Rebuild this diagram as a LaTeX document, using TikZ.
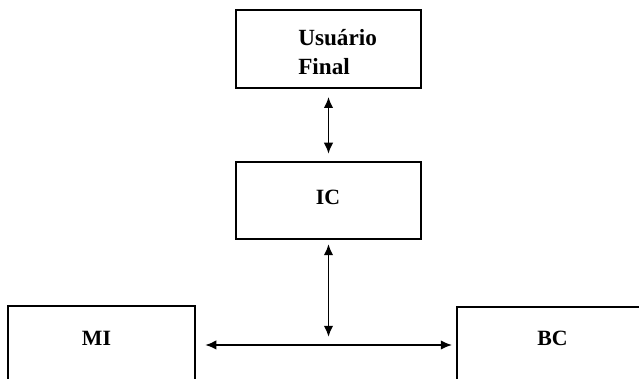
\documentclass[tikz,border=0pt]{standalone}
\usepackage{fontspec}
\setmainfont{Liberation Serif}
\usetikzlibrary{arrows.meta}
\tikzset{
  box/.style={draw=black, line width=1.5pt, inner sep=0pt, minimum width=4.625cm},
  lbl/.style={font=\fontsize{15.5}{18}\selectfont\bfseries, inner sep=0pt},
  dblarr/.style={{Latex[length=2.8mm,width=2.4mm]}-{Latex[length=2.8mm,width=2.4mm]}, line width=1.4pt},
}

\begin{document}
\begin{tikzpicture}[x=0.025cm, y=-0.025cm]
  \clip (0,0) rectangle (639,379);
  % top: end user
  \node[box, minimum height=1.95cm] (usr) at (328.5,49) {};
  \node[lbl, font=\fontsize{16.5}{20.6}\selectfont\bfseries, align=left, anchor=west] (usrtxt) at (298,52) {Usuário\\Final};
  % middle: interface
  \node[box, minimum height=1.925cm] (ic) at (328.5,200.5) {};
  \node[lbl] (ictxt) at (328,197.5) {IC};
  % bottom row, cut off by the page edge
  \node[box, minimum width=4.675cm, minimum height=4cm, anchor=north west] (mi) at (7,305) {};
  \node[lbl] (mitxt) at (96.5,338) {MI};
  \node[box, minimum width=6cm, minimum height=4cm, anchor=north west] (bc) at (456,306) {};
  \node[lbl] (bctxt) at (552.5,338) {BC};
  \coordinate (mid) at (328.5,345);
  % connectors
  \draw[dblarr, shorten <=5.5pt, shorten >=5pt] (usr.south) -- (ic.north);
  \draw[dblarr, shorten <=2.8pt, shorten >=5.7pt] (ic.south) -- (mid);
  \draw[dblarr, shorten <=6.4pt, shorten >=2.8pt] (mi.east |- mid) -- (bc.west |- mid);
\end{tikzpicture}
\end{document}
